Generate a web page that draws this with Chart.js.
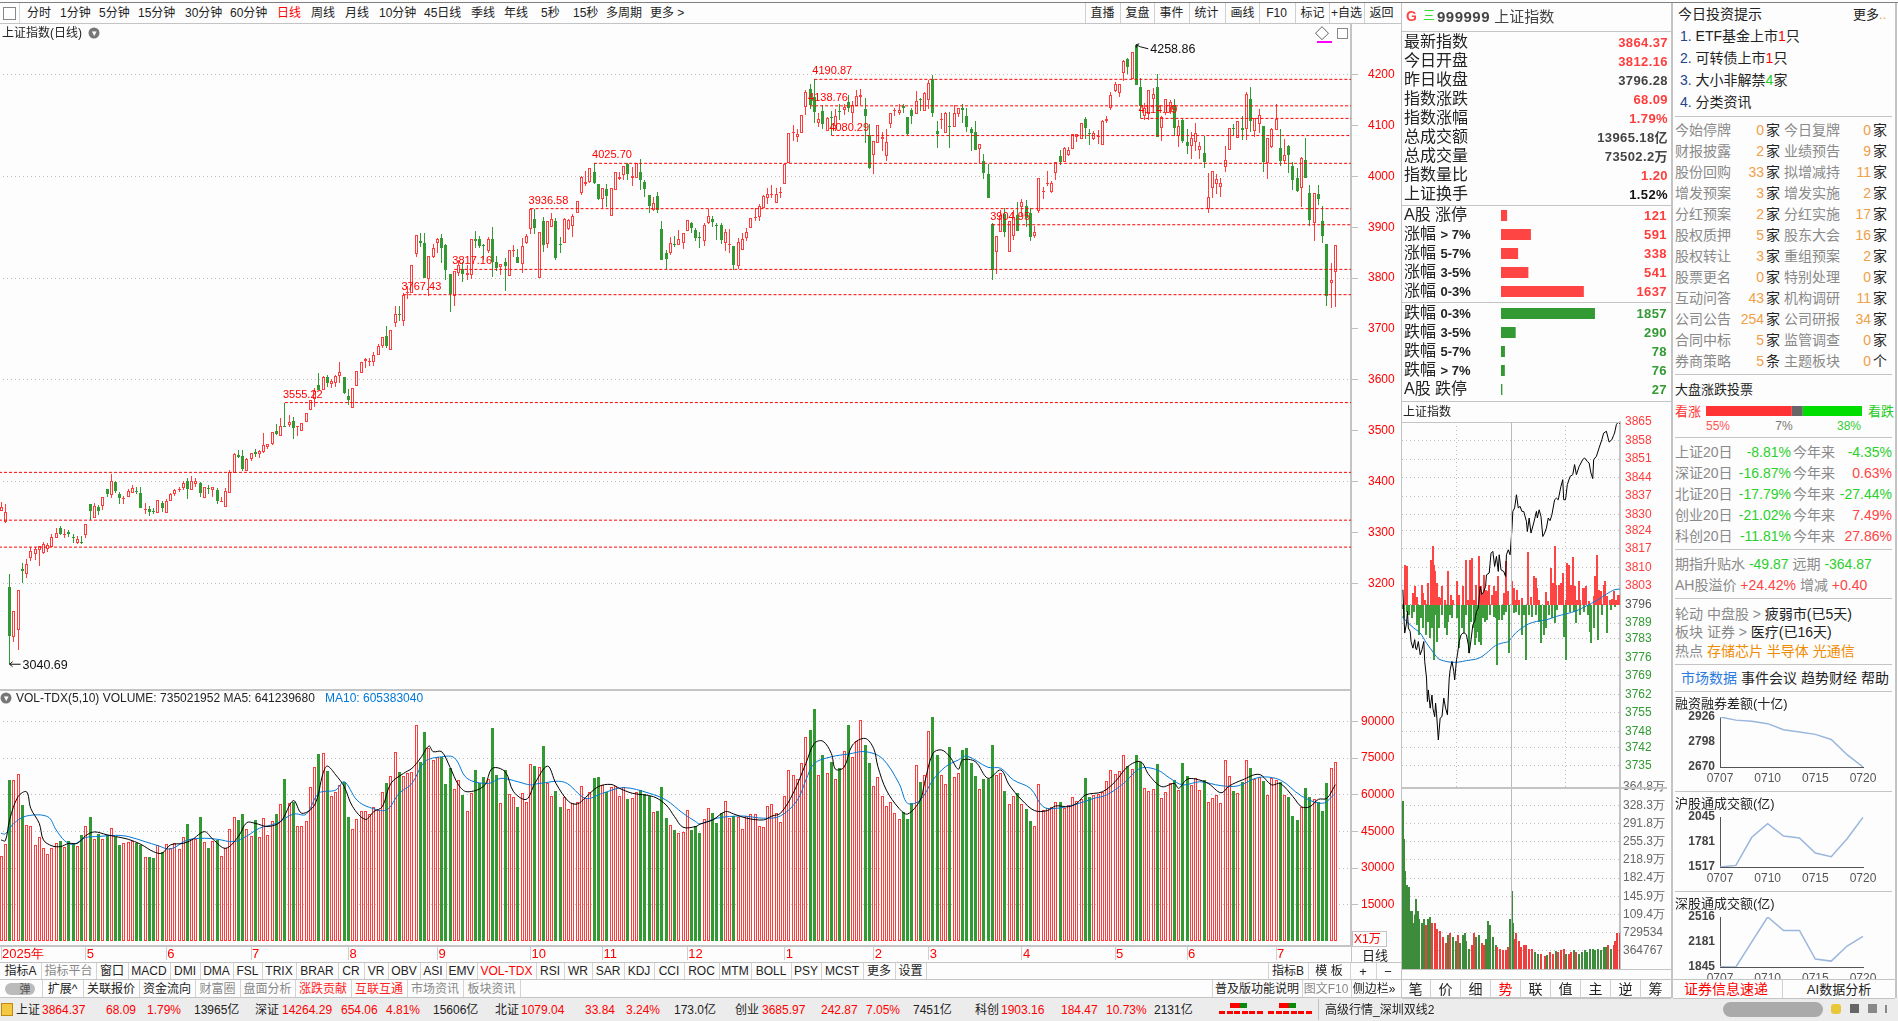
<!DOCTYPE html>
<html>
<head>
<meta charset="utf-8">
<title>上证指数(日线)</title>
<script src="https://cdn.jsdelivr.net/npm/chart.js@4/dist/chart.umd.min.js"></script>
<style>
html, body { margin: 0; padding: 0; width: 1898px; height: 1021px; overflow: hidden; background: #fdfdfd; }
body { position: relative; font-family: "Liberation Sans", "Noto Sans CJK SC", sans-serif; color: #222; }
canvas { position: absolute; }
.t { position: absolute; white-space: nowrap; line-height: 1; transform: translateY(-50%); }
.l { position: absolute; }
</style>
</head>
<body>
<script>
// daily candles of 上证指数
const opens = [
3343,3320,3193,3094,3109,3228,3219,3250,3258,3266,
3259,3268,3272,3288,3309,3294,3300,3290,3279,3282,
3294,3356,3329,3350,3351,3385,3373,3399,3375,3365,
3370,3378,3381,3377,3344,3345,3342,3339,3358,3339,
3362,3376,3383,3388,3401,3384,3396,3397,3368,3386,
3384,3383,3359,3349,3378,3417,3452,3450,3421,3444,
3458,3455,3458,3467,3473,3499,3490,3510,3512,3519,
3508,3500,3518,3541,3562,3590,3579,3605,3592,3594,
3607,3606,3568,3545,3588,3614,3637,3636,3636,3648,
3667,3686,3659,3712,3729,3716,3770,3771,3848,3872,
3870,3798,3842,3870,3878,3865,3808,3764,3811,3817,
3807,3806,3876,3876,3866,3854,3876,3831,3821,3831,
3805,3853,3842,3828,3870,3897,3916,3800,3912,3868,
3901,3912,3867,3870,3896,3903,3929,3968,3986,3989,
4009,3986,3956,3975,3923,3974,3994,4002,4024,3996,
3996,4009,3989,3963,3933,3962,3897,3849,3850,3868,
3866,3870,3893,3908,3895,3880,3872,3908,3917,3903,
3905,3870,3866,3863,3823,3856,3878,3899,3918,3921,
3937,3958,3963,3948,3968,3986,4026,4085,4078,4086,
4136,4172,4157,4106,4129,4090,4116,4099,4127,4130,
4146,4125,4139,4157,4132,4081,4043,4065,4074,4041,
4104,4128,4125,4138,4117,4131,4123,4152,4129,4151,
4191,4089,4110,4086,4099,4098,4123,4134,4119,4093,
4087,4053,4030,4004,3906,3851,3891,3926,3852,3883,
3924,3939,3942,3929,3883,3931,3969,3986,3969,4007,
4040,4029,4042,4053,4077,4074,4113,4084,4073,4077,
4062,4108,4135,4168,4164,4203,4230,4192,4258.86,4176,
4119,4123,4153,4176,4096,4125,4127,4140,4079,4111,
4067,4060,4068,4052,4046,3936,3978,3986,3980,4018,
4052,4094,4075,4095,4094,4153,4090,4104,4099,4027,
4058,4091,4056,4031,4060,4021,3997,3978,4032,3967,
3909,3965,3912,3867,3791,3812.16];
const highs = [
3360,3356,3218,3145,3186,3240,3247,3271,3271,3274,
3282,3280,3297,3308,3313,3306,3305,3297,3292,3293,
3316,3356,3358,3353,3369,3385,3415,3402,3379,3372,
3385,3393,3390,3390,3358,3352,3347,3364,3362,3366,
3377,3385,3389,3401,3406,3410,3406,3400,3389,3393,
3389,3387,3369,3387,3423,3457,3462,3462,3446,3457,
3463,3462,3495,3473,3497,3513,3525,3555.22,3530,3526,
3509,3516,3534,3560,3583,3613,3607,3609,3601,3609,
3636,3606,3581,3583,3617,3635,3642,3642,3654,3671,
3684,3706,3698,3746,3745,3770,3785,3825,3884,3889,
3889,3843,3867,3878,3887,3868,3809,3813,3835,3832,
3826,3876,3892,3882,3867,3880,3900,3844,3828,3839,
3855,3865,3857,3879,3886,3937,3935,3890,3920,3912,
3929,3919,3880,3918,3917,3926,3951,4001,4011,4016,
4025.7,3986,3977,3986,3977,4008,4008,4021,4026,4019,
4026,4034,3992,3963,3959,3970,3912,3855,3880,3882,
3894,3889,3914,3911,3899,3890,3908,3935,3923,3908,
3908,3896,3897,3863,3879,3888,3899,3918,3937,3946,
3964,3978,3983,3978,3980,4024,4085,4101,4093,4120,
4169,4182,4190.87,4125,4140,4116,4129,4132,4142,4142,
4161,4149,4170,4171,4154,4104,4069,4102,4088,4094,
4124,4134,4142,4143,4117,4134,4168,4155,4166,4190,
4200,4108,4124,4127,4126,4140,4134,4142,4135,4098,
4109,4063,4044,4024,3908,3882,3934,3937,3913,3934,
3949,3955,3954,3937,3902,3996,3980,4011,3990,4028,
4052,4057,4058,4083,4084,4106,4117,4093,4090,4091,
4111,4119,4166,4185,4181,4229,4232,4244,4258.86,4193,
4144,4170,4173,4201,4119,4153,4151,4153,4111,4112,
4094,4088,4106,4067,4080,4006,4010,4004,3996,4060,
4096,4104,4108,4119,4165,4176,4114,4132,4100,4075,
4096,4142,4094,4073,4062,4029,4016,4039,4075,3983,
3967,3983,3942,3868,3829,3864.37];
const lows = [
3343,3319,3040.69,3085,3069,3200,3211,3244,3246,3234,
3257,3262,3271,3288,3294,3288,3290,3280,3278,3278,
3288,3324,3329,3335,3344,3370,3368,3378,3356,3356,
3370,3378,3375,3348,3336,3332,3337,3339,3341,3339,
3362,3372,3379,3383,3366,3384,3389,3370,3368,3375,
3370,3355,3359,3349,3378,3417,3446,3421,3421,3440,
3448,3446,3457,3463,3472,3491,3490,3508,3508,3484,
3490,3500,3518,3541,3547,3579,3579,3586,3583,3586,
3593,3573,3551,3545,3588,3614,3623,3627,3628,3648,
3663,3663,3659,3704,3716,3706,3759,3771,3842,3862,
3801,3764,3840,3849,3829,3796,3734,3745,3804,3792,
3796,3798,3859,3859,3836,3850,3803,3813,3806,3775,
3805,3842,3830,3811,3868,3886,3887,3800,3851,3859,
3901,3836,3850,3870,3895,3880,3929,3964,3981,3988,
3985,3954,3937,3939,3923,3974,3993,3992,3993,3981,
3996,3973,3960,3929,3931,3929,3836,3818,3845,3862,
3865,3857,3893,3889,3872,3860,3863,3906,3901,3875,
3867,3853,3849,3816,3817,3856,3873,3899,3912,3912,
3937,3945,3958,3948,3957,3986,4026,4070,4068,4086,
4121,4132,4106,4098,4093,4090,4081,4090,4111,4121,
4127,4106,4139,4140,4065,4015,4005,4065,4050,4030,
4095,4119,4121,4124,4081,4104,4123,4129,4129,4133,
4117,4056,4093,4086,4055,4098,4116,4106,4088,4050,
4051,4026,3995,3958,3797,3809,3891,3881,3852,3874,
3893,3921,3901,3873,3878,3929,3955,3982,3968,3993,
4022,4029,4041,4053,4068,4074,4074,4062,4071,4063,
4062,4106,4130,4165,4157,4188,4201,4191,4180,4114,
4111,4110,4134,4077,4070,4121,4123,4079,4058,4065,
4045,4035,4049,4035,4017,3929,3958,3965,3960,4009,
4052,4081,4075,4072,4072,4088,4078,4085,4009,3994,
4055,4091,4020,4024,4006,3973,3969,3940,3997,3903,
3872,3944,3870,3746,3742,3743];
const closes = [
3349,3341,3097,3145,3186,3225,3237,3263,3267,3274,
3278,3276,3290,3299,3297,3297,3296,3288,3287,3279,
3316,3343,3351,3343,3369,3375,3402,3381,3368,3368,
3381,3387,3379,3348,3345,3340,3341,3363,3348,3362,
3375,3383,3385,3398,3385,3402,3402,3377,3389,3385,
3389,3362,3360,3381,3419,3455,3449,3424,3444,3457,
3455,3461,3471,3473,3497,3493,3509,3508,3518,3505,
3509,3516,3534,3560,3578,3580,3605,3594,3597,3608,
3615,3575,3560,3583,3617,3635,3640,3637,3649,3667,
3684,3667,3698,3729,3728,3766,3773,3825,3884,3870,
3801,3843,3859,3876,3860,3815,3768,3813,3826,3809,
3811,3876,3872,3863,3864,3876,3831,3820,3828,3823,
3855,3854,3830,3863,3883,3935,3899,3890,3865,3912,
3916,3840,3866,3916,3915,3923,3951,3998,3989,4016,
3988,3956,3977,3962,3977,4008,3998,4021,4005,4001,
4026,3992,3975,3941,3947,3933,3836,3838,3870,3866,
3876,3888,3914,3899,3879,3878,3904,3923,3911,3902,
3875,3891,3868,3826,3871,3876,3890,3918,3919,3942,
3961,3965,3963,3965,3969,4024,4085,4087,4083,4120,
4165,4140,4127,4112,4103,4114,4115,4119,4126,4136,
4135,4140,4159,4160,4119,4016,4069,4102,4077,4067,
4124,4130,4131,4135,4083,4119,4148,4150,4164,4183,
4125,4084,4110,4124,4098,4124,4134,4131,4098,4086,
4052,4063,4007,3958,3815,3882,3924,3891,3913,3921,
3893,3949,3919,3881,3890,3996,3969,3986,3988,4028,
4028,4056,4051,4083,4084,4106,4096,4083,4085,4078,
4108,4113,4161,4181,4181,4226,4216,4244,4180,4138,
4134,4169,4163,4077,4117,4153,4146,4096,4099,4070,
4060,4075,4085,4059,4029,3959,4010,3994,3988,4032,
4096,4093,4108,4092,4163,4108,4114,4120,4029,4075,
4094,4112,4031,4043,4043,3992,3971,4037,3997,3914,
3967,3956,3883,3765,3796,3864.37];

// volume in 万
const volumes = [
35000,39900,66000,66000,68300,55800,47600,47200,39500,42600,
38100,35800,38100,40400,41200,38800,41100,40400,39200,43600,
47200,50900,41800,43800,41900,43600,46300,42600,39500,40100,
40800,41100,40100,39500,34400,34400,34200,39500,36700,39900,
38100,40400,37700,42600,48000,41800,41800,50900,40800,38100,
41200,41500,35000,38100,45900,50900,49700,52100,45900,43100,
49700,42600,50400,43700,49400,52100,56200,66400,56800,57200,
47200,47200,49300,63300,71200,76600,76900,69700,59500,61200,
64000,65300,50900,45900,49900,53400,53400,52100,55100,53800,
61100,64600,67600,77400,69400,67600,68700,69400,88500,73500,
85700,78900,74200,75300,75500,64400,71000,62300,66000,59900,
53400,60800,70100,64600,67100,66300,87100,68100,56500,70100,
60300,59200,55100,60800,57000,72500,71700,71200,79900,64600,
59500,61500,55100,58900,54000,56800,56900,63600,58500,61000,
66700,67200,64000,61200,63000,63600,59500,63300,58300,58500,
61200,61900,60300,59500,52800,53400,63000,50600,47600,45600,
44200,44600,53800,45600,47200,44500,49900,54400,52400,48300,
52400,57300,50400,51300,51000,46000,51300,52100,52100,47200,
47000,55400,56200,52700,48700,59500,70100,68100,66400,72800,
83400,86400,95000,68100,76200,68700,73500,66400,70800,77700,
88500,75500,81900,90500,80300,73100,63600,67100,59500,55400,
56900,52400,49900,52900,50100,56500,72100,65300,68100,86000,
91900,76200,68100,64400,79600,67100,68700,78300,79100,73100,
67600,62200,66400,66400,80300,68100,68700,61500,56200,59500,
60800,56200,54000,49300,47200,64400,53800,54400,55100,56900,
57000,54700,55800,58900,57600,58100,66700,59200,59900,60200,
61200,65600,70100,68500,69800,76100,71700,70400,76100,73500,
62600,61700,62200,72500,58500,61200,64600,66000,61900,72800,
67600,64000,66700,61900,66000,57200,58500,59900,56500,74200,
67600,61500,60600,65300,74200,70800,66300,67100,65700,59900,
66700,66000,65300,59900,59200,51300,49700,55100,62700,59200,
58100,57200,53400,64600,70800,73502];

// moving average curves, read at the bars listed in the matching Bars arrays
const ma5Bars = [0,1,2,4,6,7,9,10,12,14,16,18,20,22,25,27,30,33,36,38,40,43,45,48,50,53,56,58,60,63,66,69,71,74,76,77,79,81,83,86,88,90,92,95,97,99,101,102,104,106,108,110,114,116,119,121,124,126,129,131,134,136,138,141,144,146,149,154,157,159,161,164,165,168,171,173,176,180,182,184,187,190,192,194,196,197,199,201,204,206,207,209,212,214,217,218,220,222,224,226,227,230,233,236,238,241,244,247,249,252,254,256,260,263,266,269,271,274,277,278,280,282,285,288,290,293,297,300,302,305,307,309,311,313,315];
const ma5Values = [41500,41200,49700,59200,61200,54400,48300,41500,39100,38800,40100,40100,43300,44800,43600,42900,41800,39700,36700,36100,39500,40100,41500,44900,41800,38100,42900,48600,48300,47000,49000,57600,52400,55800,68700,71700,68100,63300,55100,49900,53100,55100,64600,68700,70800,74900,79900,77600,77600,71200,64000,61200,63600,70800,69400,61200,58100,64600,71700,64600,57200,56200,58900,63300,64200,62600,60600,59200,55800,51000,46700,47000,48000,49700,53100,52100,50400,49700,51300,52400,60600,72800,81000,81900,76900,70400,71200,80300,83000,78900,71500,61900,54400,52100,57800,64600,76900,78300,75500,70400,74200,73500,66700,70100,64000,57800,53500,53500,55400,55100,56500,59900,61200,65300,71500,73500,68100,63300,64600,62600,66300,66400,64600,60800,63600,66000,68300,64000,64600,59200,55100,55100,58100,58500,64124];
const ma10Bars = [0,1,3,6,11,13,15,17,20,23,27,30,34,37,40,44,48,51,55,58,61,65,69,72,75,79,81,84,87,91,94,97,100,104,107,110,115,118,122,125,127,133,138,142,147,153,157,161,164,165,169,175,180,184,188,190,192,196,200,204,208,212,214,217,220,223,226,228,233,236,239,243,246,249,254,258,261,265,269,273,276,279,283,288,292,297,302,307,312,315];
const ma10Values = [44200,44000,48300,51300,51000,45600,41200,39700,42500,42900,43400,42900,40800,39200,37800,41500,42200,41800,40800,43100,46300,48300,52100,52000,60600,61900,65300,57800,54800,53800,60600,64600,73500,75500,75100,66700,64600,66700,65300,64000,64600,65100,58500,60600,62900,60600,57800,52400,49000,48000,50400,51300,50400,51300,57800,66000,72800,75500,76600,77600,74900,64600,56500,57800,66000,71500,74200,75800,71200,70800,66000,62600,55100,54400,56200,58500,59900,64600,70800,70100,66700,64000,65300,63700,63600,67100,66000,59500,56500,60538];

// red dashed support / resistance levels
const levelPrices = [4190.87,4138.76,4114.09,4080.29,4025.70,3936.58,3904.95,3817.16,3767.43,3555.22,3418,3324,3271];
const levelStarts = [192,191,269,196,140,125,234,107,95,67,-0.5,-0.5,-0.5];
const levelTexts = ["4190.87","4138.76","4114.09","4080.29","4025.70","3936.58","3904.95","3817.16","3767.43","3555.22","","",""];

const priceTicks = [4200,4100,4000,3900,3800,3700,3600,3500,3400,3300,3200];
const volumeTicks = [90000,75000,60000,45000,30000,15000];
const monthBars = [0,20,39,59,82,103,125,142,162,185,206,219,241,263,280,301];
const monthNames = ["2025年","5","6","7","8","9","10","11","12","1","2","3","4","5","6","7"];

// intraday price and average line, x is the trading minute
const flashMinutes = [1,2,3,5,6,7,9,10,12,14,15,16,18,20,22,24,25,27,28,29,31,33,34,36,37,38,40,42,44,46,48,50,52,53,55,57,58,60,61,63,65,67,69,71,73,74,76,78,80,82,84,86,88,90,92,93,96,98,100,102,104,106,107,109,112,114,115,117,119,121,122,124,126,128,130,132,134,137,138,140,142,145,148,149,151,153,155,157,159,161,163,165,168,170,172,175,177,178,180,182,185,188,190,192,195,199,201,204,206,208,210,211,214,217,220,222,225,228,231,233,234,236,238,240];
const flashPrices = [3801.6,3792.1,3785.2,3789,3793.4,3787.1,3785.8,3782,3779.5,3782.7,3779.5,3778.9,3782,3777,3778.9,3782,3774.5,3768.2,3759.3,3763.7,3756.8,3761.8,3756.8,3753.6,3758.7,3754.9,3744.8,3753,3753.6,3760.6,3756.8,3754.3,3768.2,3771.3,3774.5,3770.7,3767.5,3775.1,3777,3782,3784.5,3785.2,3785.2,3784.5,3780.8,3777.6,3782.7,3788.3,3789.6,3793.4,3794.6,3802.8,3799.7,3800.9,3802.8,3807.2,3807.9,3815.4,3816.1,3810.4,3814.2,3808.5,3814.8,3809.1,3808.5,3806.6,3814.8,3816.7,3814.8,3824.3,3831.2,3832.5,3837.5,3832.5,3833.1,3831.2,3831.2,3827.4,3823.6,3828.7,3823,3826.8,3831.2,3828.7,3831.8,3829.3,3821.7,3823,3824.9,3828.7,3827.7,3829.9,3835.6,3836.2,3835.6,3840.7,3843.2,3835.6,3835.6,3841.3,3844.4,3845.1,3848.9,3845.1,3848.2,3850.8,3851.4,3850.1,3849.5,3845.7,3843.6,3850.8,3852,3855.2,3858.3,3860.8,3861.5,3857.4,3858.3,3860,3860.8,3864,3865,3864.37];
const avgMinutes = [0,5,13,20,27,35,40,46,53,62,71,81,88,95,103,110,117,125,132,139,148,159,170,181,192,203,214,225,234,240];
const avgPrices = [3791.5,3789.6,3787.1,3785.2,3781.4,3777.6,3775.5,3774.7,3774.2,3774.2,3774.8,3775.3,3776.3,3778.2,3780.5,3781.4,3782,3785.2,3787.1,3788.6,3789.6,3790.2,3791.5,3792.5,3793.6,3795.5,3797.4,3799.9,3801.6,3801.8];

// buying / selling strength around the zero line
const buyMinutes = [3,5,12,14,16,22,23,25,29,32,34,35,36,38,41,43,44,47,51,54,56,60,61,63,67,70,71,73,75,77,79,82,85,87,88,90,92,94,96,99,101,104,106,112,115,117,121,123,125,127,129,132,139,142,145,147,149,151,159,161,164,166,168,170,173,175,177,180,182,184,186,188,190,193,195,196,199,201,203,206,211,212,215,217,219,222,224,226,229,231,233,236,238,240];
const buyValues = [119,114,34,54,22,59,34,14,64,134,176,119,99,64,21,19,54,14,99,29,14,69,54,29,54,134,89,14,134,139,14,57,144,54,29,89,44,39,59,29,54,39,84,34,129,39,69,49,14,44,14,19,156,21,86,79,49,14,37,11,109,64,176,59,59,64,94,14,124,119,57,142,54,14,69,14,49,49,54,9,24,84,149,44,39,59,69,24,14,16,39,14,29,29];
const sellMinutes = [1,2,6,8,11,13,17,19,21,23,26,29,31,33,35,37,39,41,44,47,49,51,53,55,60,63,66,68,71,74,76,79,80,82,83,85,87,89,91,94,97,101,104,105,107,110,112,115,118,123,126,129,132,134,137,140,143,148,151,153,156,158,162,165,168,171,178,181,185,189,192,196,200,205,207,208,211,216,220,226,230,234];
const sellValues = [-13,-41,-21,-31,-41,-21,-61,-91,-41,-71,-91,-51,-101,-71,-166,-31,-111,-71,-31,-71,-91,-51,-31,-41,-41,-131,-71,-86,-31,-146,-51,-71,-121,-101,-81,-111,-121,-41,-51,-46,-31,-36,-41,-181,-46,-46,-31,-21,-146,-26,-21,-31,-91,-31,-166,-31,-36,-31,-51,-116,-91,-71,-31,-41,-56,-16,-96,-166,-21,-21,-56,-31,-21,-31,-81,-116,-71,-106,-31,-86,-16,-6];

// intraday volume in 万, side g = down minute, r = up minute
const tickMinutes = [1,2,3,5,6,8,9,11,12,14,15,16,18,19,22,24,26,29,31,33,36,39,42,45,48,51,53,56,59,62,64,67,69,71,74,77,79,82,85,88,90,93,95,97,100,103,105,108,111,114,117,119,121,122,124,126,129,131,134,137,140,143,146,150,153,157,160,163,166,169,172,175,178,181,184,186,189,192,195,198,201,204,207,210,213,216,219,222,225,227,230,233,235,237,240];
const tickVolumes = [337,261,197,169,121,165,117,117,93,109,141,101,117,101,93,101,89,101,105,93,93,81,77,65,53,69,73,65,57,69,53,69,73,57,41,49,73,65,69,53,49,61,96,89,65,49,45,41,38,38,45,101,156,93,61,73,57,45,49,49,41,41,34,31,30,26,28,34,30,36,34,38,41,30,30,34,38,34,31,35,38,34,41,41,38,41,39,44,45,49,41,49,57,73,73];
const tickSides = "ggggggggggggggggrggrrrrrrgrggrgggggrrggrrgggggrrrrrgggrrrrrrrrggrrgrrgrrrgrrgrgggggggggggrgrrrr".split("");

const intraPriceTicks = [3865,3858,3851,3844,3837,3830,3824,3817,3810,3803,3796,3789,3783,3776,3769,3762,3755,3748,3742,3735];
const intraVolTicks = [364.8,328.3,291.8,255.3,218.9,182.4,145.9,109.4,72.95,36.48];
const intraVolLabels = ["364.8万","328.3万","291.8万","255.3万","218.9万","182.4万","145.9万","109.4万","729534","364767"];

// advance / decline counts
const upNames = ["A股 涨停","涨幅 > 7%","涨幅 5-7%","涨幅 3-5%","涨幅 0-3%"];
const upCounts = [121,591,338,541,1637];
const downNames = ["跌幅 0-3%","跌幅 3-5%","跌幅 5-7%","跌幅 > 7%","A股 跌停"];
const downCounts = [1857,290,78,76,27];

const voteNames = ["55%","7%","38%"];
const voteShares = [55,7,38];

// small line charts at the bottom right
const miniDays = ["0707","0708","0709","0710","0713","0714","0715","0716","0717","0720"];
const marginGap = [2926,2910,2904,2892,2861,2849,2837,2811,2733,2670];
const shanghaiTurnover = [1517,1534,1831,1974,1844,1823,1664,1626,1815,2041];
const shenzhenTurnover = [1850,1845,2181,2516,2335,2335,1951,1924,2127,2255];

const RED = "#ff3d3d";
const GREEN = "#339933";
const PAPER = "#fdfdfd";
const GRIDGRAY = "#bdbdbd";

function text(x, y, s, o)
{
    o = o || {};
    let e = document.createElement("div");
    e.className = "t";
    e.innerHTML = s;
    e.style.top = y + "px";
    e.style.fontSize = (o.size || 12) + "px";
    e.style.color = o.color || "#222";
    if (o.bold) e.style.fontWeight = "bold";
    if (o.spacing) e.style.letterSpacing = o.spacing + "px";
    if (o.right) { e.style.right = (1898 - x) + "px"; }
    else if (o.center) { e.style.left = x + "px"; e.style.transform = "translate(-50%,-50%)"; }
    else { e.style.left = x + "px"; }
    document.body.appendChild(e);
    return e;
}

function line(x, y, w, h, color)
{
    let e = document.createElement("div");
    e.className = "l";
    e.style.cssText = "left:" + x + "px;top:" + y + "px;width:" + w + "px;height:" + h + "px;background:" + (color || "#c4c4c4");
    document.body.appendChild(e);
    return e;
}

function canvas(left, top, w, h)
{
    let c = document.createElement("canvas");
    c.width = w;
    c.height = h;
    c.style.left = left + "px";
    c.style.top = top + "px";
    c.style.width = w + "px";
    c.style.height = h + "px";
    document.body.appendChild(c);
    return c;
}

function baseOptions(scales, padding)
{
    return {
        responsive: false,
        animation: false,
        events: [],
        devicePixelRatio: 1,
        layout: { padding: padding || 0 },
        plugins: { legend: { display: false }, tooltip: { enabled: false } },
        scales: scales,
    };
}

function fitY(width)
{
    return ax => { ax.width = width; ax.paddingTop = 0; ax.paddingBottom = 0; };
}

function fitX(height)
{
    return ax => { ax.height = height; ax.paddingLeft = 0; ax.paddingRight = 0; };
}

function sparse(xs, ys)
{
    return xs.map((x, i) => ({ x: x, y: ys[i] }));
}

function candleColors()
{
    return closes.map((c, i) => c >= opens[i]);
}

// keep the thin bars on whole pixels so they stay sharp
const snapPlugin = {
    id: "snapBars",
    beforeDatasetsDraw(chart)
    {
        chart.getSortedVisibleDatasetMetas().forEach(meta =>
        {
            if (meta.type !== "bar") return;
            meta.data.forEach(el =>
            {
                let w = Math.round(el.width);
                el.width = w;
                el.x = w % 2 ? Math.floor(el.x) + 0.5 : Math.round(el.x);
                el.y = Math.round(el.y);
                el.base = Math.round(el.base);
            });
        });
    }
};

// level captions and the two extreme price notes
const captionPlugin = {
    id: "captions",
    afterDatasetsDraw(chart)
    {
        let ctx = chart.ctx, xs = chart.scales.x, ys = chart.scales.y;
        ctx.save();
        ctx.font = '11px "Liberation Sans"';
        ctx.fillStyle = "#ff0000";
        ctx.textBaseline = "alphabetic";
        for (let i = 0; i < levelTexts.length; i++)
        {
            if (levelTexts[i]) ctx.fillText(levelTexts[i], xs.getPixelForValue(levelStarts[i]) - 2, ys.getPixelForValue(levelPrices[i]) - 5);
        }
        ctx.font = '12.5px "Liberation Sans"';
        ctx.fillStyle = "#111";
        ctx.strokeStyle = "#111";
        ctx.textBaseline = "middle";
        let lowX = xs.getPixelForValue(2), lowY = ys.getPixelForValue(3040.69);
        ctx.beginPath();
        ctx.moveTo(lowX, lowY); ctx.lineTo(lowX + 11, lowY);
        ctx.moveTo(lowX, lowY); ctx.lineTo(lowX + 3, lowY - 2.5);
        ctx.moveTo(lowX, lowY); ctx.lineTo(lowX + 3, lowY + 2.5);
        ctx.stroke();
        ctx.fillText("3040.69", lowX + 13, lowY + 1);
        let topX = xs.getPixelForValue(268), topY = ys.getPixelForValue(4258.86);
        ctx.beginPath();
        ctx.moveTo(topX, topY); ctx.lineTo(topX + 4, topY + 2); ctx.lineTo(topX + 12, topY + 4);
        ctx.moveTo(topX, topY); ctx.lineTo(topX + 3, topY - 1);
        ctx.moveTo(topX, topY); ctx.lineTo(topX, topY + 3);
        ctx.stroke();
        ctx.fillText("4258.86", topX + 14, topY + 5);
        ctx.restore();
    }
};

function createMain()
{
    let up = candleColors();
    let datasets = [];
    levelPrices.forEach((p, i) =>
    {
        datasets.push({
            type: "line",
            data: [{ x: levelStarts[i], y: p }, { x: 318.7, y: p }],
            borderColor: "#ff0000",
            borderWidth: 1,
            borderDash: [3, 2],
            pointRadius: 0,
            order: 0,
        });
    });
    datasets.push({
        data: opens.map((o, i) => ({ x: i, y: [Math.min(o, closes[i]), Math.max(o, closes[i])] })),
        backgroundColor: up.map(u => u ? PAPER : GREEN),
        borderColor: up.map(u => u ? RED : GREEN),
        borderWidth: 1,
        borderSkipped: false,
        inflateAmount: 0,
        barThickness: 3,
        minBarLength: 1,
        grouped: false,
        order: 1,
    });
    datasets.push({
        data: lows.map((l, i) => ({ x: i, y: [l, highs[i]] })),
        backgroundColor: up.map(u => u ? RED : GREEN),
        borderWidth: 0,
        inflateAmount: 0,
        barThickness: 1,
        grouped: false,
        order: 2,
    });
    new Chart(canvas(-1, 24, 1401, 665), {
        type: "bar",
        data: { datasets: datasets },
        plugins: [snapPlugin, captionPlugin],
        options: baseOptions({
            x: { type: "linear", display: false, offset: false, min: -0.5, max: 318.7 },
            y: {
                type: "linear",
                position: "right",
                min: 2992,
                max: 4299.7,
                afterBuildTicks: ax => { ax.ticks = priceTicks.map(v => ({ value: v })); },
                afterFit: fitY(49),
                grid: {
                    color: c => (c.tick && c.tick.value % 200 === 0) ? GRIDGRAY : "rgba(0,0,0,0)",
                    tickColor: GRIDGRAY,
                    tickLength: 7,
                },
                border: { display: true, color: "#c4c4c4", width: 2, dash: [1, 3] },
                ticks: { color: "#ff0000", padding: 10, font: { family: "Liberation Sans", size: 12 }, callback: v => String(v) },
            },
        }),
    });
}

function createVolume()
{
    let up = candleColors();
    new Chart(canvas(-1, 690, 1401, 272), {
        type: "bar",
        plugins: [snapPlugin],
        data: {
            datasets: [
                { type: "line", data: sparse(ma5Bars, ma5Values), borderColor: "#000", borderWidth: 1, pointRadius: 0, tension: 0.35, order: 0 },
                { type: "line", data: sparse(ma10Bars, ma10Values), borderColor: "#0078d7", borderWidth: 1, pointRadius: 0, tension: 0.35, order: 0 },
                {
                    data: volumes.map((v, i) => ({ x: i, y: v })),
                    backgroundColor: up.map(u => u ? PAPER : GREEN),
                    borderColor: up.map(u => u ? RED : GREEN),
                    borderWidth: 1,
                    borderSkipped: false,
                    inflateAmount: 0,
                    barThickness: 3,
                    grouped: false,
                    order: 1,
                },
            ]
        },
        options: baseOptions({
            x: {
                type: "linear",
                offset: false,
                min: -0.5,
                max: 318.7,
                afterBuildTicks: ax => { ax.ticks = monthBars.map(v => ({ value: v })); },
                afterFit: fitX(16),
                grid: { drawOnChartArea: false, offset: false, tickColor: "#d0d0d0", tickLength: 14 },
                border: { display: true, color: "#c4c4c4", width: 2 },
                ticks: {
                    autoSkip: false,
                    maxRotation: 0,
                    minRotation: 0,
                    align: "start",
                    padding: -13,
                    labelOffset: 1,
                    color: "#ff0000",
                    font: { family: "Liberation Sans", size: 13 },
                    callback: v => monthNames[monthBars.indexOf(v)],
                },
            },
            y: {
                type: "linear",
                position: "right",
                min: -1840,
                max: 102800,
                afterBuildTicks: ax => { ax.ticks = volumeTicks.map(v => ({ value: v })); },
                afterFit: fitY(49),
                grid: { color: GRIDGRAY, tickColor: GRIDGRAY, tickLength: 7 },
                border: { display: true, color: "#c4c4c4", width: 2, dash: [1, 3] },
                ticks: { color: "#ff0000", padding: 3, font: { family: "Liberation Sans", size: 12 }, callback: v => String(v) },
            },
        }),
    });
}

function intradayTickColor(c)
{
    let v = c.tick.value;
    if (v > 3796) return RED;
    if (v < 3796) return GREEN;
    return "#555";
}

function createIntraday()
{
    new Chart(canvas(1402, 415, 265, 372), {
        type: "bar",
        plugins: [snapPlugin],
        data: {
            datasets: [
                { type: "line", data: sparse(flashMinutes, flashPrices), borderColor: "#000", borderWidth: 1, pointRadius: 0, yAxisID: "y", order: 0 },
                { type: "line", data: sparse(avgMinutes, avgPrices), borderColor: "#0a78d0", borderWidth: 1, pointRadius: 0, tension: 0.3, yAxisID: "y", order: 0 },
                { data: sparse(buyMinutes, buyValues), backgroundColor: "#ff4444", barThickness: 2, inflateAmount: 0, grouped: false, yAxisID: "flow", order: 1 },
                { data: sparse(sellMinutes, sellValues), backgroundColor: "#3c9c3c", barThickness: 2, inflateAmount: 0, grouped: false, yAxisID: "flow", order: 1 },
            ]
        },
        options: baseOptions({
            x: {
                type: "linear",
                offset: false,
                min: 0,
                max: 240,
                afterBuildTicks: ax => { ax.ticks = [60, 180].map(v => ({ value: v })); },
                afterFit: fitX(0),
                grid: { color: GRIDGRAY, offset: false, drawTicks: false },
                border: { display: false, dash: [1, 3] },
                ticks: { display: false },
            },
            y: {
                type: "linear",
                position: "right",
                min: 3727,
                max: 3865,
                afterBuildTicks: ax => { ax.ticks = intraPriceTicks.map(v => ({ value: v })); },
                afterFit: fitY(47),
                grid: { color: c => (c.tick && c.tick.value === 3796) ? "#999" : GRIDGRAY, drawTicks: false },
                border: { display: true, color: "#c4c4c4", width: 2, dash: [1, 3] },
                ticks: { color: intradayTickColor, padding: 5, font: { family: "Liberation Sans", size: 12 }, callback: v => String(v) },
            },
            flow: { type: "linear", display: false, min: -547, max: 547 },
        }, { top: 7 }),
    });

    new Chart(canvas(1402, 780, 265, 189), {
        type: "bar",
        plugins: [snapPlugin],
        data: {
            datasets: [{
                data: sparse(tickMinutes, tickVolumes),
                backgroundColor: tickSides.map(s => s === "r" ? "#ee3f3f" : "#3c8c3c"),
                barThickness: 2,
                inflateAmount: 0,
            }]
        },
        options: baseOptions({
            x: { type: "linear", display: false, offset: false, min: 0, max: 240 },
            y: {
                type: "linear",
                position: "right",
                min: 0,
                max: 364.8,
                afterBuildTicks: ax => { ax.ticks = intraVolTicks.map(v => ({ value: v })); },
                afterFit: fitY(47),
                grid: { color: GRIDGRAY, drawTicks: false },
                border: { display: true, color: "#c4c4c4", width: 2, dash: [1, 3] },
                ticks: {
                    color: "#666",
                    padding: 3,
                    font: { family: "Liberation Sans", size: 12 },
                    callback: v => intraVolLabels[intraVolTicks.indexOf(v)],
                },
            },
        }, { top: 7 }),
    });
}

function createBreadth(top, names, counts, color)
{
    new Chart(canvas(1501, top, 100, 95), {
        type: "bar",
        data: { labels: names, datasets: [{ data: counts, backgroundColor: color, barThickness: 11, inflateAmount: 0 }] },
        options: Object.assign(baseOptions({
            x: { type: "linear", display: false, min: 0, max: 1976 },
            y: { type: "category", display: false },
        }), { indexAxis: "y" }),
    });
}

function createVote()
{
    let colors = ["#ff3333", "#666666", "#00dd00"];
    new Chart(canvas(1706, 406, 156, 10), {
        type: "bar",
        data: {
            labels: ["投票"],
            datasets: voteShares.map((v, i) => ({ data: [v], backgroundColor: colors[i], categoryPercentage: 1, barPercentage: 1, inflateAmount: 0 })),
        },
        options: Object.assign(baseOptions({
            x: { type: "linear", display: false, stacked: true, min: 0, max: 100 },
            y: { type: "category", display: false, stacked: true },
        }), { indexAxis: "y" }),
    });
}

function createMini(plotTop, values)
{
    let lo = values === marginGap ? 2670 : (values === shanghaiTurnover ? 1517 : 1845);
    let hi = values === marginGap ? 2926 : (values === shanghaiTurnover ? 2045 : 2516);
    new Chart(canvas(1675, plotTop - 9, 218, 78), {
        type: "line",
        data: { labels: miniDays, datasets: [{ data: values, borderColor: "#9ab6dc", borderWidth: 1.5, pointRadius: 0 }] },
        options: baseOptions({
            x: {
                type: "category",
                afterFit: fitX(19),
                grid: { display: false, drawTicks: false },
                border: { display: true, color: "#555", width: 1 },
                ticks: {
                    autoSkip: false,
                    maxRotation: 0,
                    padding: 4,
                    color: "#555",
                    font: { family: "Liberation Sans", size: 12 },
                    callback: (v, i) => i % 3 === 0 ? miniDays[i] : "",
                },
            },
            y: {
                type: "linear",
                min: lo,
                max: hi,
                afterBuildTicks: ax => { ax.ticks = [hi, (hi + lo) / 2, lo].map(v => ({ value: v })); },
                afterFit: fitY(45),
                grid: { display: false, drawTicks: false },
                border: { display: true, color: "#555", width: 1 },
                ticks: { padding: 5, color: "#444", font: { family: "Liberation Sans", size: 12, weight: "bold" }, callback: v => String(Math.ceil(v)) },
            },
        }, { top: 9, right: 30 }),
    });
}

// ---- page furniture ----
const toolbarNames = ["分时","1分钟","5分钟","15分钟","30分钟","60分钟","日线","周线","月线","10分钟","45日线","季线","年线","5秒","15秒","多周期","更多 &gt;"];
const toolbarLeft = [27,60,99,138,185,230,277,311,345,379,424,471,504,541,573,606,650];
const toolNames = ["直播","复盘","事件","统计","画线","F10","标记","+自选","返回"];
const toolSeps = [1085,1120,1154,1189,1225,1259,1295,1329,1364];

const tabNames = ["指标A","指标平台","窗口","MACD","DMI","DMA","FSL","TRIX","BRAR","CR","VR","OBV","ASI","EMV","VOL-TDX","RSI","WR","SAR","KDJ","CCI","ROC","MTM","BOLL","PSY","MCST","更多","设置"];
const tabSeps = [41,96,128,170,200,233,262,296,338,364,388,420,446,477,536,564,592,624,654,684,719,751,791,821,863,895,926];
const subTabNames = ["扩展^","关联报价","资金流向","财富圈","盘面分析","涨跌贡献","互联互通","市场资讯","板块资讯"];
const subTabSeps = [42,83,139,195,240,295,351,407,463,520];
const subTabColors = ["#222","#222","#222","#888","#888","#ff2222","#ff2222","#888","#888"];

const quoteNames = ["最新指数","今日开盘","昨日收盘","指数涨跌","指数涨幅","总成交额","总成交量","指数量比","上证换手"];
const quoteValues = ["3864.37","3812.16","3796.28","68.09","1.79%","13965.18亿","73502.2万","1.20","1.52%"];
const quoteColors = [RED,RED,"#444",RED,RED,"#444","#444",RED,"#111"];

const noticeRows = [
    ["今始停牌","0","家","今日复牌","0","家"],
    ["财报披露","2","家","业绩预告","9","家"],
    ["股份回购","33","家","拟增减持","11","家"],
    ["增发预案","3","家","增发实施","2","家"],
    ["分红预案","2","家","分红实施","17","家"],
    ["股权质押","5","家","股东大会","16","家"],
    ["股权转让","3","家","重组预案","2","家"],
    ["股票更名","0","家","特别处理","0","家"],
    ["互动问答","43","家","机构调研","11","家"],
    ["公司公告","254","家","公司研报","34","家"],
    ["合同中标","5","家","监管调查","0","家"],
    ["券商策略","5","条","主题板块","0","个"],
];
const trendRows = [
    ["上证20日","-8.81%","-4.35%"],
    ["深证20日","-16.87%","0.63%"],
    ["北证20日","-17.79%","-27.44%"],
    ["创业20日","-21.02%","7.49%"],
    ["科创20日","-11.81%","27.86%"],
];
const statusItems = [
    [16,"上证","#222"],[42,"3864.37","#f00"],[106,"68.09","#f00"],[147,"1.79%","#f00"],[194,"13965亿","#222"],
    [255,"深证","#222"],[282,"14264.29","#f00"],[341,"654.06","#f00"],[386,"4.81%","#f00"],[433,"15606亿","#222"],
    [495,"北证","#222"],[521,"1079.04","#f00"],[585,"33.84","#f00"],[626,"3.24%","#f00"],[674,"173.0亿","#222"],
    [735,"创业","#222"],[762,"3685.97","#f00"],[821,"242.87","#f00"],[866,"7.05%","#f00"],[913,"7451亿","#222"],
    [975,"科创","#222"],[1001,"1903.16","#f00"],[1061,"184.47","#f00"],[1106,"10.73%","#f00"],[1154,"2131亿","#222"],
];

function breadthLabel(name)
{
    if (name.indexOf("A股") === 0) return name.replace(" ", "&nbsp;");
    return name.replace(" ", "&nbsp;<b style='font-size:13px'>") + "</b>";
}

function drawFurniture()
{
    line(0, 2, 1898, 1, "#808080");

    // top toolbar
    line(0, 23, 1401, 1);
    line(3, 7, 11, 11, "#fff").style.border = "1px solid #888";
    line(19, 3, 1, 20, "#d8d8d8");
    toolbarNames.forEach((n, i) => text(toolbarLeft[i], 13, n, { size: 12, color: n === "日线" ? "#f00" : "#222" }));
    toolNames.forEach((n, i) => text(toolSeps[i] + 17.5, 13, n, { size: 12, center: true }));
    toolSeps.forEach(x => line(x, 3, 1, 20, "#d0d0d0"));

    // chart captions
    text(2, 33, "上证指数(日线)", { size: 12 });
    text(94, 33, "&#9662;", { size: 9, center: true, color: "#fff" }).style.cssText += ";background:#777;border-radius:6px;width:11px;height:11px;line-height:11px;text-align:center";
    text(1322, 33, "&#9671;", { size: 14, center: true, color: "#333" });
    line(1337, 28, 9, 9, "#fff").style.border = "1px solid #888";
    line(1317, 41, 15, 2, "#f0f");
    line(0, 689, 1352, 2);
    text(6, 698, "&#9662;", { size: 9, center: true, color: "#fff" }).style.cssText += ";background:#777;border-radius:6px;width:11px;height:11px;line-height:11px;text-align:center";
    text(16, 698, "VOL-TDX(5,10) VOLUME: 735021952 MA5: 641239680", { size: 12 });
    text(325, 698, "MA10: 605383040", { size: 12, color: "#0078d7" });
    let unit = text(1352, 939, "X1万", { size: 12, color: "#f00" });
    unit.style.cssText += ";border:1px solid #c4c4c4;padding:1px 5px 1px 1px";
    text(1375, 955, "日线", { size: 13, center: true });
    line(1351, 947, 1, 16);
    line(0, 962, 1401, 1);
    line(0, 979, 1401, 1);
    line(0, 997, 1671, 1);

    // indicator tabs
    let left = 0;
    tabNames.forEach((n, i) =>
    {
        let color = n === "VOL-TDX" ? "#f00" : (n === "指标平台" ? "#888" : "#222");
        text((left + tabSeps[i]) / 2, 971, n, { size: 12, center: true, color: color });
        line(tabSeps[i], 963, 1, 16, "#d4d4d4");
        left = tabSeps[i];
    });
    text(1288, 971, "指标B", { size: 12, center: true });
    text(1329, 971, "模 板", { size: 12, center: true });
    text(1363, 971, "+", { size: 13, center: true });
    text(1388, 971, "−", { size: 13, center: true });
    [1268, 1308, 1350, 1376].forEach(x => line(x, 963, 1, 16, "#d4d4d4"));

    // lower tabs
    let pill = line(5, 983, 30, 12, "#bbb");
    pill.style.borderRadius = "6px";
    text(25, 989, "弹", { size: 11, center: true, color: "#555" });
    subTabNames.forEach((n, i) =>
    {
        text((subTabSeps[i] + subTabSeps[i + 1]) / 2, 989, n, { size: 12, center: true, color: subTabColors[i] });
    });
    subTabSeps.forEach(x => line(x, 980, 1, 17, "#d4d4d4"));
    text(1257, 989, "普及版功能说明", { size: 12, center: true });
    text(1326, 989, "图文F10", { size: 12, center: true, color: "#888" });
    text(1374, 989, "侧边栏»", { size: 12, center: true });
    [1212, 1302, 1351].forEach(x => line(x, 980, 1, 17, "#d4d4d4"));

    // status bar
    line(0, 998, 1898, 23, "#ececec");
    let icon = line(1, 1003, 10, 11, "#f5c842");
    icon.style.border = "1px solid #c08a10";
    statusItems.forEach(s => text(s[0], 1010, s[1], { size: 12, color: s[2] }));
    [1219, 1268].forEach(x =>
    {
        line(x + 11, 1003, 10, 5, "#f00");
        line(x + 21, 1003, 7, 5, "#0a8a0a");
        for (let k = 0; k < 6; k++) line(x + k * 7.5, 1011, 6, 3, "#f00");
    });
    line(1318, 999, 1, 21, "#c0c0c0");
    text(1325, 1010, "高级行情_深圳双线2", { size: 12 });
    let search = line(1723, 1002, 100, 15, "#aaa");
    search.style.borderRadius = "8px";
    let coin = line(1831, 1004, 10, 10, "#e8c83a");
    coin.style.borderRadius = "3px";
    line(1850, 1004, 9, 9, "#666");
    line(1868, 1004, 9, 9, "#888");
    line(1885, 1005, 2, 8, "#888");

    // column frames
    line(1401, 3, 1, 995);
    line(1671, 3, 2, 995);
    line(1895, 3, 2, 995);

    // quote column
    text(1406, 16, "G", { size: 14, bold: true, color: "#ff4444" });
    text(1423, 16, "三", { size: 12, color: "#33dd33" });
    text(1437, 16, "<b style='letter-spacing:.5px'>999999</b> 上证指数", { size: 15, color: "#444" });
    line(1402, 31, 269, 1);
    quoteNames.forEach((n, i) =>
    {
        let y = 42 + i * 19;
        text(1404, y, n, { size: 16 });
        text(1668, y, quoteValues[i], { size: 13, bold: true, color: quoteColors[i], right: true, spacing: 0.4 });
    });
    line(1402, 205, 269, 1);
    upNames.forEach((n, i) =>
    {
        let y = 215 + i * 19;
        text(1404, y, breadthLabel(n), { size: 16 });
        text(1667, y, upCounts[i], { size: 13, bold: true, color: RED, right: true, spacing: 0.4 });
    });
    line(1402, 302, 269, 1);
    downNames.forEach((n, i) =>
    {
        let y = 313 + i * 19;
        text(1404, y, breadthLabel(n), { size: 16 });
        text(1667, y, downCounts[i], { size: 13, bold: true, color: GREEN, right: true, spacing: 0.4 });
    });
    line(1402, 401, 269, 1);

    // intraday frame
    text(1403, 412, "上证指数", { size: 12 });
    line(1402, 422, 218, 1);
    line(1511, 422, 1, 547, "#bbb");
    line(1402, 787, 265, 2);
    line(1402, 969, 269, 1);
    line(1402, 979, 269, 1);
    line(1402, 998, 269, 1);
    ["笔","价","细","势","联","值","主","逆","筹"].forEach((n, i) =>
    {
        text(1415.5 + i * 30, 989, n, { size: 14, center: true, color: n === "势" ? "#f00" : "#222" });
        if (i > 0) line(1400 + i * 30, 980, 1, 18, "#d0d0d0");
    });

    // notice column
    text(1678, 14, "今日投资提示", { size: 14 });
    text(1853, 14, "更多<span style='color:#e8a050'>..</span>", { size: 13 });
    text(1680, 36, "<span style='color:#224488'>1.</span> ETF基金上市<span style='color:#f00'>1</span>只", { size: 14 });
    text(1680, 58, "<span style='color:#224488'>2.</span> 可转债上市<span style='color:#f00'>1</span>只", { size: 14 });
    text(1680, 80, "<span style='color:#224488'>3.</span> 大小非解禁<span style='color:#2c2'>4</span>家", { size: 14 });
    text(1680, 102, "<span style='color:#224488'>4.</span> 分类资讯", { size: 14 });
    line(1675, 116, 217, 1);
    noticeRows.forEach((r, i) =>
    {
        let y = 130 + i * 21;
        text(1675, y, r[0], { size: 14, color: "#8a8a8a" });
        text(1764, y, r[1], { size: 14, color: "#f0a048", right: true });
        text(1766, y, r[2], { size: 14 });
        text(1784, y, r[3], { size: 14, color: "#8a8a8a" });
        text(1871, y, r[4], { size: 14, color: "#f0a048", right: true });
        text(1873, y, r[5], { size: 14 });
    });
    line(1675, 374, 217, 1);
    text(1675, 389, "大盘涨跌投票", { size: 13 });
    text(1675, 411, "看涨", { size: 13, color: "#f33" });
    text(1868, 411, "看跌", { size: 13, color: "#2c2" });
    text(1718, 426, voteNames[0], { size: 12, center: true, color: "#f55" });
    text(1784, 426, voteNames[1], { size: 12, center: true, color: "#777" });
    text(1849, 426, voteNames[2], { size: 12, center: true, color: "#3c3" });
    line(1675, 437, 217, 1);
    trendRows.forEach((r, i) =>
    {
        let y = 452 + i * 21;
        text(1675, y, r[0], { size: 14, color: "#8a8a8a" });
        text(1791, y, r[1], { size: 14, color: "#2bd02b", right: true });
        text(1793, y, "今年来", { size: 14, color: "#8a8a8a" });
        text(1892, y, r[2], { size: 14, color: r[2][0] === "-" ? "#2bd02b" : "#ff4444", right: true });
    });
    line(1675, 549, 217, 1);
    text(1675, 564, "期指升贴水 <span style='color:#2bd02b'>-49.87</span> 远期 <span style='color:#2bd02b'>-364.87</span>", { size: 14, color: "#8a8a8a" });
    text(1675, 585, "AH股溢价 <span style='color:#ff4444'>+24.42%</span> 增减 <span style='color:#ff4444'>+0.40</span>", { size: 14, color: "#8a8a8a" });
    line(1675, 598, 217, 1);
    text(1675, 614, "轮动 中盘股 &gt; <span style='color:#222'>疲弱市(已5天)</span>", { size: 14, color: "#8a8a8a" });
    text(1675, 632, "板块 证券 &gt; <span style='color:#222'>医疗(已16天)</span>", { size: 14, color: "#8a8a8a" });
    text(1675, 651, "热点 <span style='color:#f08c00'>存储芯片 半导体 光通信</span>", { size: 14, color: "#8a8a8a" });
    line(1675, 664, 217, 1);
    text(1681, 678, "市场数据", { size: 14, color: "#2a7ae0" });
    text(1741, 678, "事件会议", { size: 14 });
    text(1801, 678, "趋势财经", { size: 14 });
    text(1861, 678, "帮助", { size: 14 });
    line(1675, 691, 217, 1);
    text(1675, 703, "融资融券差额(十亿)", { size: 13 });
    line(1675, 791, 217, 1);
    text(1675, 803, "沪股通成交额(亿)", { size: 13 });
    line(1675, 891, 217, 1);
    text(1675, 903, "深股通成交额(亿)", { size: 13 });

    // bottom tabs of the notice column cover the last mini chart labels
    line(1673, 979, 222, 19, PAPER);
    line(1673, 979, 222, 1);
    line(1673, 998, 222, 1);
    line(1782, 980, 1, 18, "#d0d0d0");
    text(1726, 989, "证券信息速递", { size: 14, center: true, color: "#f00" });
    text(1839, 989, "AI数据分析", { size: 13, center: true });
}

createMain();
createVolume();
createIntraday();
createBreadth(205.5, upNames, upCounts, "#ff4444");
createBreadth(303.5, downNames, downCounts, GREEN);
createVote();
createMini(716.8, marginGap);
createMini(816.6, shanghaiTurnover);
createMini(916.8, shenzhenTurnover);
drawFurniture();
</script>
</body>
</html>
